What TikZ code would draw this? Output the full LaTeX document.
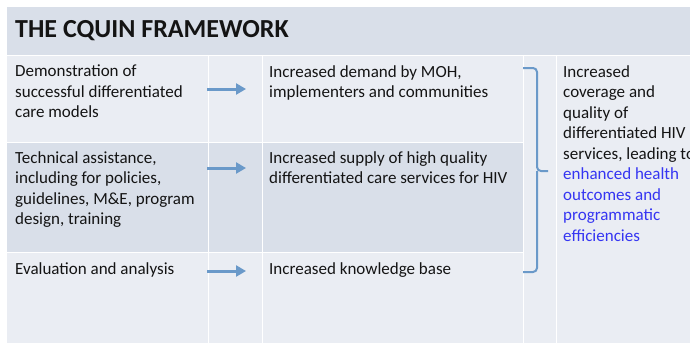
\documentclass[tikz,border=0pt]{standalone}
\usepackage{fontspec}
\setmainfont{Carlito}
\usetikzlibrary{arrows.meta}

\definecolor{headgray}{HTML}{D9DFE9}
\definecolor{cellgray}{HTML}{EAEDF3}
\definecolor{flowblue}{HTML}{6A99C9}
\definecolor{goalblue}{HTML}{3535F2}

\begin{document}
\begin{tikzpicture}[x = 1pt, y = -1pt,
	cell/.style = {anchor = north west, inner sep = 0pt, align = left,
		font = \fontsize{17}{20.5}\selectfont, text = black!92},
	flow/.style = {flowblue, line width = 3pt, -{Triangle[length = 10pt, width = 11pt]}}]

	% Definitions

	\def\H{55}		% Bottom of header
	\def\W{690}		% Right edge
	\def\D{343}		% Bottom edge

	% Frame

	\useasboundingbox (0, 0) rectangle (\W, \D);
	\clip (0, 0) rectangle (\W, \D);

	% Header and cells

	\fill [headgray] (7, 7) rectangle (\W, \H);
	\fill [cellgray] (7, \H) rectangle (\W, \D);
	\fill [headgray] (7, 142) rectangle (523, 252);

	\foreach \x in {208, 262, 523, 556}
		\draw [white, line width = 1pt] (\x, \H) -- (\x, \D);
	\foreach \y in {142, 252}
		\draw [white, line width = 1pt] (7, \y) -- (523, \y);
	\draw [white, line width = 1pt] (7, \H) -- (\W, \H);

	% Title

	\node [anchor = base west, inner sep = 0pt, text = black!92,
		font = \fontsize{26}{30}\selectfont\bfseries] (title) at (15, 37) {THE CQUIN FRAMEWORK};

	% Inputs

	\node [cell] (demo) at (15, 65) {Demonstration of\\successful differentiated\\care models};
	\node [cell] (assist) at (15, 151) {Technical assistance,\\including for policies,\\guidelines, M\&E, program\\design, training};
	\node [cell] (evalu) at (15, 262) {Evaluation and analysis};

	% Results

	\node [cell] (demand) at (269, 65) {Increased demand by MOH,\\implementers and communities};
	\node [cell] (supply) at (269, 151) {Increased supply of high quality\\differentiated care services for HIV};
	\node [cell] (knowledge) at (269, 262) {Increased knowledge base};

	% Outcome

	\node [cell] (outcome) at (563, 65) {Increased\\coverage and\\quality of\\differentiated HIV\\services, leading to\\
		\textcolor{goalblue}{enhanced health}\\\textcolor{goalblue}{outcomes and}\\
		\textcolor{goalblue}{programmatic}\\\textcolor{goalblue}{efficiencies}};

	% Arrows between columns

	\foreach \y [count = \i] in {89, 168, 271}
	{
		\coordinate (from\i) at (207, \y);
		\coordinate (to\i) at (246, \y);
		\draw [flow] (from\i) -- (to\i);
	}

	% Bracket

	\draw [flowblue, line width = 2pt, rounded corners = 4pt] (523, 68) -| (537, 171) -- (548, 171);
	\draw [flowblue, line width = 2pt, rounded corners = 4pt] (523, 272) -| (537, 171);

\end{tikzpicture}
\end{document}
